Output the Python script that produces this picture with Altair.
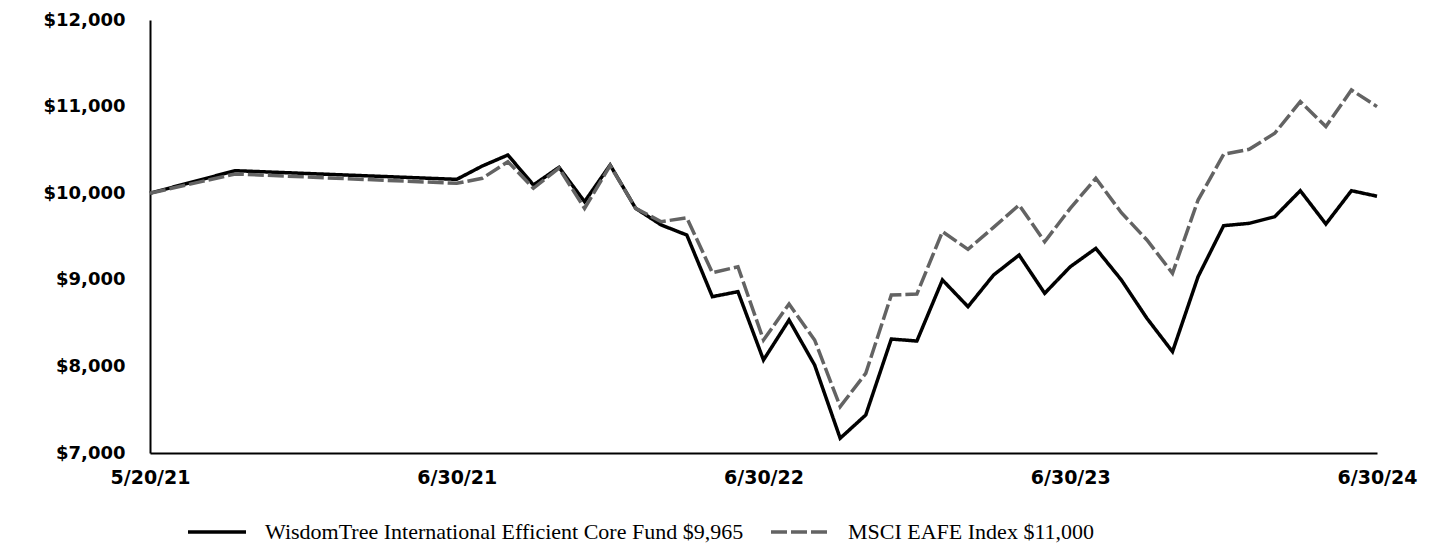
import altair as alt
import pandas as pd

# Data
x_pos = [0, 3.33, 12, 13, 14, 15, 16, 17, 18, 19, 20, 21, 22, 23, 24, 25, 26, 27, 28, 29, 30,
         31, 32, 33, 34, 35, 36, 37, 38, 39, 40, 41, 42, 43, 44, 45, 46, 47, 48]
fund = [10000, 10260, 10160, 10314, 10441, 10095, 10299, 9902, 10326, 9825, 9633, 9517, 8805,
        8863, 8074, 8536, 8016, 7170, 7439, 8316, 8293, 8998, 8690, 9055, 9286, 8844, 9151,
        9363, 8998, 8555, 8170, 9036, 9625, 9652, 9729, 10029, 9644, 10029, 9965]
index = [10000, 10222, 10114, 10172, 10364, 10057, 10290, 9825, 10320, 9825, 9671, 9717, 9082,
         9151, 8305, 8721, 8305, 7535, 7920, 8824, 8836, 9556, 9352, 9606, 9864, 9440, 9825,
         10172, 9775, 9460, 9075, 9921, 10449, 10507, 10692, 11057, 10769, 11192, 11000]
series_names = ["WisdomTree International Efficient Core Fund $9,965", "MSCI EAFE Index $11,000"]
tick_pos = [0, 12, 24, 36, 48]
tick_labels = ["5/20/21", "6/30/21", "6/30/22", "6/30/23", "6/30/24"]
y_ticks = [7000, 8000, 9000, 10000, 11000, 12000]

rows = []
for name, vals in zip(series_names, [fund, index]):
    for i, (xp, v) in enumerate(zip(x_pos, vals)):
        rows.append({"x": xp, "value": v, "series": name, "order": i})
df = pd.DataFrame(rows)

label_map = "{" + ",".join(f"'{p}':'{l}'" for p, l in zip(tick_pos, tick_labels)) + "}"

legend = alt.Legend(title=None, orient="none", direction="horizontal",
                    legendX=36, legendY=481, symbolType="stroke",
                    symbolSize=3364, symbolStrokeWidth=3.5,
                    labelFont="Liberation Serif", labelFontSize=22,
                    labelColor="black", labelLimit=0, labelOffset=17,
                    columnPadding=20)

chart = alt.Chart(df).mark_line(strokeWidth=3.5, strokeJoin="miter").encode(
    x=alt.X("x:Q", scale=alt.Scale(domain=[0, 48], nice=False, zero=False),
            axis=alt.Axis(values=tick_pos, labelExpr=f"{label_map}[datum.value]", title=None,
                          grid=False, ticks=False, domainColor="black", domainWidth=2,
                          labelFont="DejaVu Sans", labelFontWeight="bold", labelFontSize=19,
                          labelColor="black", labelPadding=15, labelFlush=False)),
    y=alt.Y("value:Q", scale=alt.Scale(domain=[7000, 12000], nice=False, zero=False),
            axis=alt.Axis(values=y_ticks, format="$,.0f", title=None, grid=False, ticks=False,
                          domainColor="black", domainWidth=2,
                          labelFont="DejaVu Sans", labelFontWeight="bold", labelFontSize=18,
                          labelColor="black", labelPadding=25)),
    color=alt.Color("series:N", scale=alt.Scale(domain=series_names, range=["#000000", "#636363"]),
                    legend=legend),
    strokeDash=alt.StrokeDash("series:N", scale=alt.Scale(domain=series_names, range=[[1, 0], [16, 4]]),
                              legend=legend),
    order="order:Q",
).properties(
    width=1227, height=433,
    background="white",
    autosize=alt.AutoSizeParams(type="none"),
    padding={"left": 142, "top": 12, "right": 55, "bottom": 91},
).configure_view(stroke=None)

chart.save("out.html", embed_options={"renderer": "svg", "actions": False})
